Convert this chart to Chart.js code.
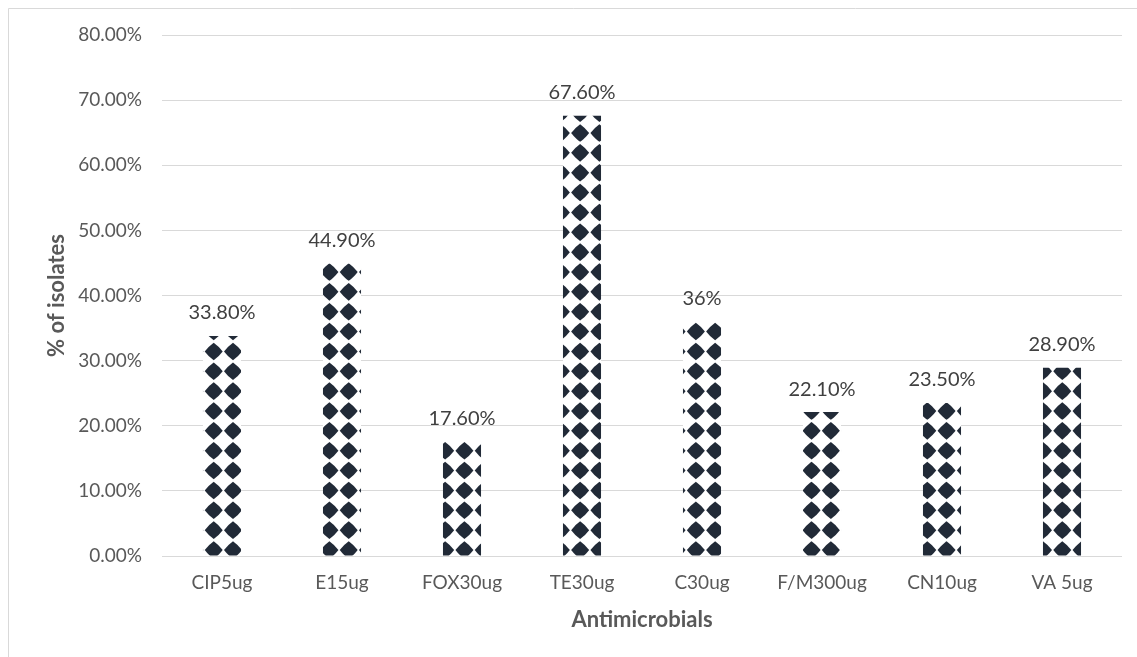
<!DOCTYPE html>
<html>
<head>
<meta charset="utf-8">
<script src="https://cdn.jsdelivr.net/npm/chart.js@4.4.1/dist/chart.umd.min.js"></script>
<style>
  html, body { margin: 0; padding: 0; background: #ffffff; }
  #wrap { position: relative; width: 1137px; height: 657px; }
</style>
</head>
<body>
<div id="wrap"><canvas id="c" width="1137" height="657"></canvas></div>
<script>
const categories = ['CIP5ug', 'E15ug', 'FOX30ug', 'TE30ug', 'C30ug', 'F/M300ug', 'CN10ug', 'VA 5ug'];
const values = [0.338, 0.449, 0.176, 0.676, 0.36, 0.221, 0.235, 0.289];
const dataLabels = ['33.80%', '44.90%', '17.60%', '67.60%', '36%', '22.10%', '23.50%', '28.90%'];
const yTicks = [0, 0.1, 0.2, 0.3, 0.4, 0.5, 0.6, 0.7, 0.8];
const xTitle = 'Antimicrobials';
const yTitle = '% of isolates';

const FONT = 'Lato, "Open Sans", sans-serif';

function makePattern(ctx) {
  const tw = 135, th = 139;
  const px = tw / 7, py = th / 7;
  const ox = 1.57, oy = 13.86;
  const c = document.createElement('canvas');
  c.width = tw; c.height = th;
  const g = c.getContext('2d');
  g.fillStyle = '#ffffff';
  g.fillRect(0, 0, tw, th);
  g.fillStyle = '#212a37';
  const hw = 9.0, hh = 8.8, b = 0.7;
  for (let i = -1; i <= 8; i++) {
    for (let j = -1; j <= 8; j++) {
      const cx = ox + i * px, cy = oy + j * py;
      g.beginPath();
      g.moveTo(cx, cy - hh);
      g.quadraticCurveTo(cx + hw / 2 + b, cy - hh / 2 - b, cx + hw, cy);
      g.quadraticCurveTo(cx + hw / 2 + b, cy + hh / 2 + b, cx, cy + hh);
      g.quadraticCurveTo(cx - hw / 2 - b, cy + hh / 2 + b, cx - hw, cy);
      g.quadraticCurveTo(cx - hw / 2 - b, cy - hh / 2 - b, cx, cy - hh);
      g.closePath();
      g.fill();
    }
  }
  return ctx.createPattern(c, 'repeat');
}

const canvas = document.getElementById('c');
const ctx = canvas.getContext('2d');
const pattern = makePattern(ctx);

const frame = {
  id: 'frame',
  beforeDraw(chart) {
    const c = chart.ctx;
    c.save();
    c.fillStyle = '#ffffff';
    c.fillRect(0, 0, chart.width, chart.height);
    c.strokeStyle = '#d9d9d9';
    c.lineWidth = 1;
    c.beginPath();
    c.moveTo(8.5, chart.height + 2);
    c.lineTo(8.5, 8.5);
    c.lineTo(chart.width + 2, 8.5);
    c.stroke();
    c.restore();
  }
};

const labelsPlugin = {
  id: 'valueLabels',
  afterDatasetsDraw(chart) {
    const c = chart.ctx;
    const meta = chart.getDatasetMeta(0);
    c.save();
    c.font = '20px ' + FONT;
    c.fillStyle = '#404040';
    c.textAlign = 'center';
    c.textBaseline = 'middle';
    meta.data.forEach((bar, i) => {
      c.fillText(dataLabels[i], bar.x, bar.y - 23);
    });
    c.restore();
  }
};

new Chart(ctx, {
  type: 'bar',
  data: {
    labels: categories,
    datasets: [{
      data: values,
      backgroundColor: pattern,
      borderWidth: 0,
      categoryPercentage: 1,
      barPercentage: 0.317
    }]
  },
  options: {
    responsive: false,
    animation: false,
    devicePixelRatio: 1,
    layout: { padding: { top: 35, right: 15, left: 0, bottom: 0 } },
    plugins: {
      legend: { display: false },
      tooltip: { enabled: false },
      title: { display: false }
    },
    scales: {
      x: {
        grid: { display: false, drawTicks: false },
        border: { display: false },
        ticks: {
          color: '#595959',
          font: { family: FONT, size: 19 },
          padding: 15,
          maxRotation: 0
        },
        title: {
          display: true,
          text: xTitle,
          color: '#595959',
          font: { family: FONT, size: 22, weight: 'bold' },
          padding: { top: 10, bottom: 24 }
        },
        afterFit(scale) { scale.height = 101; }
      },
      y: {
        min: 0,
        max: 0.8,
        afterBuildTicks(scale) { scale.ticks = yTicks.map(v => ({ value: v })); },
        grid: { color: '#d9d9d9', lineWidth: 1, drawTicks: false },
        border: { display: false },
        ticks: {
          color: '#595959',
          font: { family: FONT, size: 19 },
          padding: 20,
          callback: v => (v * 100).toFixed(2) + '%'
        },
        title: {
          display: true,
          text: yTitle,
          color: '#595959',
          font: { family: FONT, size: 22, weight: 'bold' },
          padding: { top: 44, bottom: 0 }
        },
        afterFit(scale) { scale.width = 162; }
      }
    }
  },
  plugins: [frame, labelsPlugin]
});
</script>
</body>
</html>
